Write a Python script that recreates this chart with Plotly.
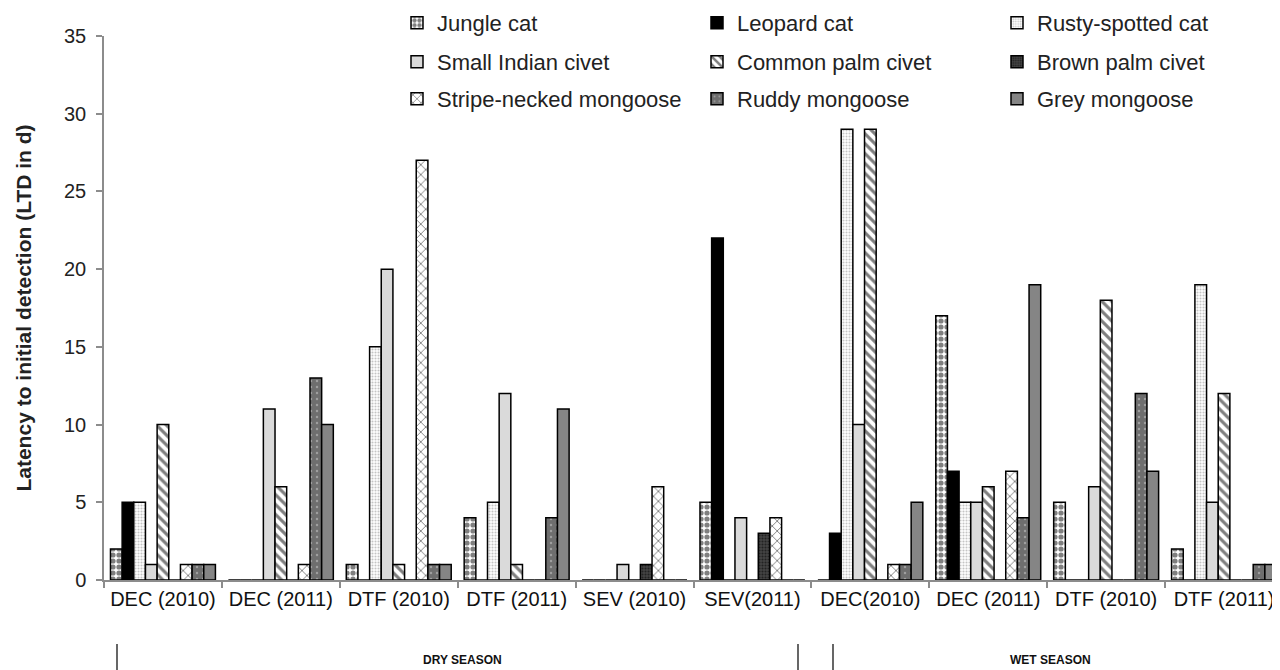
import plotly.graph_objects as go

groups = ["DEC (2010)", "DEC (2011)", "DTF (2010)", "DTF (2011)", "SEV (2010)",
          "SEV(2011)", "DEC(2010)", "DEC (2011)", "DTF (2010)", "DTF (2011)"]
y_ticks = [0, 5, 10, 15, 20, 25, 30, 35]

jungle_cat      = [2, 0, 1, 4, 0, 5, 0, 17, 5, 2]
leopard_cat     = [5, 0, 0, 0, 0, 22, 3, 7, 0, 0]
rusty_spotted   = [5, 0, 15, 5, 0, 0, 29, 5, 0, 19]
small_indian    = [1, 11, 20, 12, 1, 4, 10, 5, 6, 5]
common_palm     = [10, 6, 1, 1, 0, 0, 29, 6, 18, 12]
brown_palm      = [0, 0, 0, 0, 1, 3, 0, 0, 0, 0]
stripe_necked   = [1, 1, 27, 0, 6, 4, 1, 7, 0, 0]
ruddy_mongoose  = [1, 13, 1, 4, 0, 0, 1, 4, 12, 1]
grey_mongoose   = [1, 10, 1, 11, 0, 0, 5, 19, 7, 1]

series = [
    ("Jungle cat", jungle_cat, "legend"),
    ("Leopard cat", leopard_cat, "legend"),
    ("Rusty-spotted cat", rusty_spotted, "legend"),
    ("Small Indian civet", small_indian, "legend2"),
    ("Common palm civet", common_palm, "legend2"),
    ("Brown palm civet", brown_palm, "legend2"),
    ("Stripe-necked mongoose", stripe_necked, "legend3"),
    ("Ruddy mongoose", ruddy_mongoose, "legend3"),
    ("Grey mongoose", grey_mongoose, "legend3"),
]

styles = [
    dict(color="white", pattern=dict(shape=".", fgcolor="black", size=6, solidity=0.6, fillmode="overlay")),
    dict(color="black"),
    dict(color="white", pattern=dict(shape=".", fgcolor="#8a8a8a", size=3, solidity=0.4, fillmode="overlay")),
    dict(color="#dadada"),
    dict(color="white", pattern=dict(shape="\\", fgcolor="black", size=7, solidity=0.45, fillmode="overlay")),
    dict(color="#444444", pattern=dict(shape=".", fgcolor="black", size=3, solidity=0.4, fillmode="overlay")),
    dict(color="white", pattern=dict(shape="x", fgcolor="black", size=7, solidity=0.25, fillmode="overlay")),
    dict(color="#6e6e6e", pattern=dict(shape=".", fgcolor="#d0d0d0", size=6, solidity=0.12, fillmode="overlay")),
    dict(color="#858585"),
]

xpos = list(range(len(groups)))

fig = go.Figure()
for (name, vals, leg), st in zip(series, styles):
    marker = dict(line=dict(color="black", width=1.5), **st)
    fig.add_trace(go.Bar(x=xpos, y=vals, name=name, marker=marker, legend=leg))

FONT = "Liberation Sans, Arial, sans-serif"

# The page body adds an 8 px offset; plot area wanted at page px
# left 104, right 1283, top 36, bottom 580.
PL, PR, PT, PB = 104, 1283, 36, 580
OFF = 8

def px_x(p):
    return (p - PL) / float(PR - PL)

def px_y(p):
    return (PB - p) / float(PB - PT)

leg_common = dict(orientation="h", xanchor="left", yanchor="middle",
                  font=dict(family=FONT, size=22, color="#222"),
                  entrywidth=255, entrywidthmode="pixels",
                  bgcolor="rgba(0,0,0,0)", itemwidth=30, traceorder="normal")

W, H = 1280, 670
fig.update_layout(
    width=W, height=H,
    margin=dict(l=PL - OFF, r=W - (PR - OFF), t=PT - OFF, b=H - (PB - OFF), autoexpand=False),
    paper_bgcolor="white", plot_bgcolor="white",
    barmode="group", bargap=0.11, bargroupgap=0,
    font=dict(family=FONT, color="#222"),
    legend=dict(x=px_x(397), y=px_y(23), **leg_common),
    legend2=dict(x=px_x(397), y=px_y(62), **leg_common),
    legend3=dict(x=px_x(397), y=px_y(99), **leg_common),
    xaxis=dict(
        range=[-0.5, 9.5], tickmode="array", tickvals=xpos, ticktext=groups,
        ticks="", showline=True, linecolor="#8c8c8c", linewidth=1.5,
        tickfont=dict(family=FONT, size=20, color="#111"),
        showgrid=False, zeroline=False, automargin=False,
        minor=dict(ticks="outside", tick0=-0.5, dtick=1, ticklen=6,
                   tickcolor="#8c8c8c", tickwidth=1.5, showgrid=False),
    ),
    yaxis=dict(
        range=[0, 35], tickmode="array", tickvals=y_ticks,
        ticks="outside", ticklen=6, tickcolor="#8c8c8c", tickwidth=1.5,
        ticklabelstandoff=6,
        showline=True, linecolor="#8c8c8c", linewidth=1.5,
        showgrid=False, zeroline=False, automargin=False,
        tickfont=dict(family=FONT, size=20, color="#222"),
        title=dict(text="<b>Latency to initial detection (LTD in d)</b>",
                   font=dict(family=FONT, size=21, color="#222"), standoff=27),
    ),
)

# season separators and labels below the axis
for p in [117, 798, 833, 1276]:
    fig.add_shape(type="line", xref="paper", yref="paper",
                  x0=px_x(p), x1=px_x(p), y0=px_y(644), y1=px_y(672),
                  line=dict(color="black", width=1.2))

for txt, p in [("DRY SEASON", 462), ("WET SEASON", 1050)]:
    fig.add_annotation(text="<b>" + txt + "</b>", xref="paper", yref="paper",
                       x=px_x(p), y=px_y(660), showarrow=False,
                       font=dict(family=FONT, size=12, color="#111"),
                       xanchor="center", yanchor="middle")

fig.write_html("out.html")
